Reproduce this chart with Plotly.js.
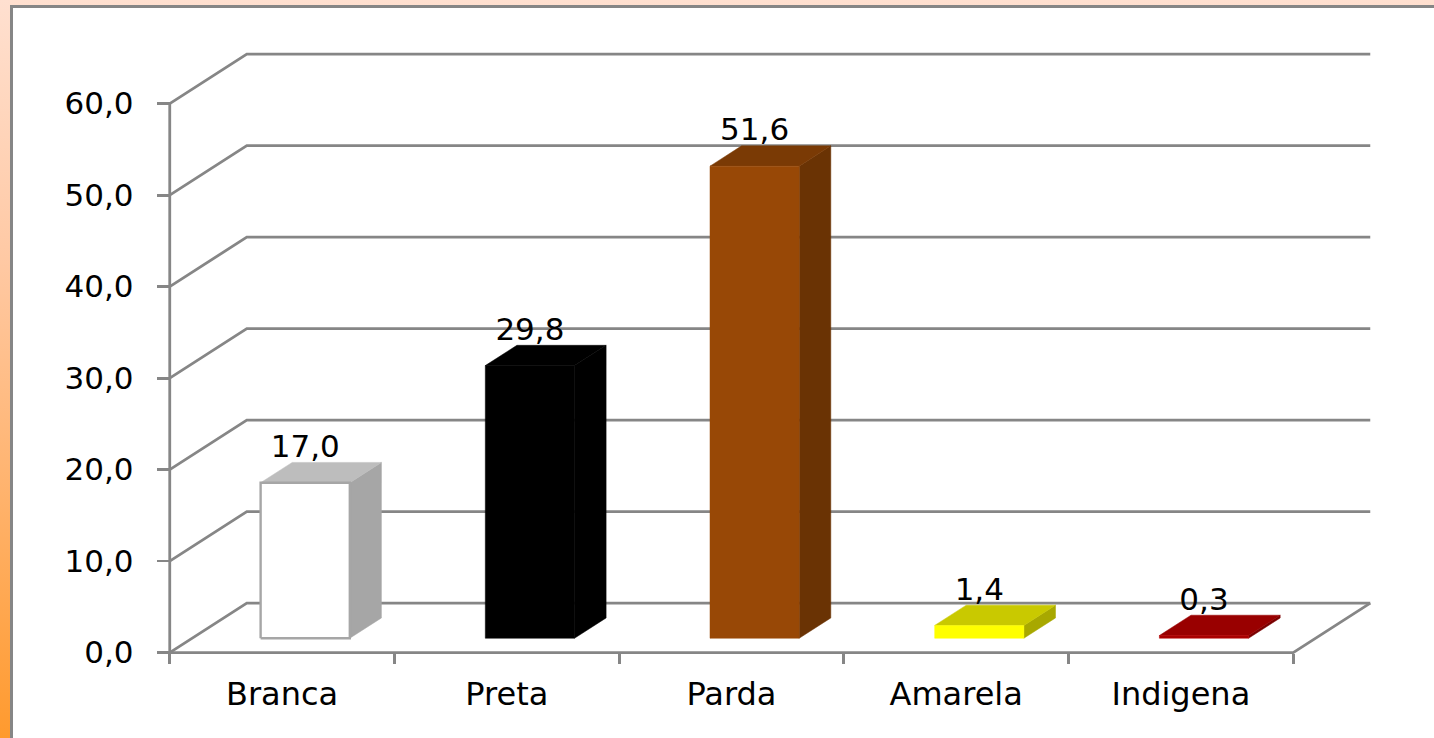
<!DOCTYPE html>
<html>
<head>
<meta charset="utf-8">
<script src="https://cdn.plot.ly/plotly-3.0.1.min.js"></script>
<style>
html,body{margin:0;padding:0;width:1434px;height:738px;overflow:hidden;background:linear-gradient(180deg,#ffe0d0 0%,#ffc9a4 35%,#ffb470 65%,#ff9a2e 100%);}
#panel{position:absolute;left:10px;top:5px;width:1440px;height:760px;background:#fff;border:3px solid #868686;box-sizing:border-box;}
#chart{position:absolute;left:0;top:0;width:1434px;height:738px;}
</style>
</head>
<body>
<div id="panel"></div>
<div id="chart"></div>
<script>
const categories = ['Branca', 'Preta', 'Parda', 'Amarela', 'Indigena'];
const values = [17.0, 29.8, 51.6, 1.4, 0.3];
const valueLabels = ['17,0', '29,8', '51,6', '1,4', '0,3'];
const yTicks = [0, 10, 20, 30, 40, 50, 60];
const yTickLabels = ['0,0', '10,0', '20,0', '30,0', '40,0', '50,0', '60,0'];

const frontColors = ['#ffffff', '#000000', '#984806', '#ffff00', '#a80000'];
const topColors = ['#bdbdbd', '#000000', '#7a3a05', '#c9c900', '#990000'];
const sideColors = ['#a6a6a6', '#000000', '#6a3304', '#a8a800', '#7a0000'];
const edgeColors = ['#a6a6a6', '#000000', '#984806', '#ffff00', '#b80000'];

// oblique projection of the 3D-look chart, in axis units
const DX = 0.343, DY = 5.41;          // full floor depth
const GAP = 0.305, BAR_W = 0.397;     // bar placement in a category
const D0 = 0.29, D1 = 0.70;           // bar depth span, fraction of the floor
const LABEL_UP = 3.65;
const GRID = '#868686';
const FONT = 'DejaVu Sans, Verdana, sans-serif';
const FS = 31, FS_X = 32;

const traces = [];
function poly(xs, ys, fill, line, w) {
  traces.push({type:'scatter', mode:'lines', x:xs, y:ys, fill:'toself', fillcolor:fill,
    line:{color:line, width:w}, hoverinfo:'skip', showlegend:false, cliponaxis:false});
}
function seg(xs, ys) {
  traces.push({type:'scatter', mode:'lines', x:xs, y:ys, line:{color:GRID, width:2.8},
    hoverinfo:'skip', showlegend:false, cliponaxis:false});
}
const n = categories.length;
yTicks.forEach(v => seg([0, DX, n + DX], [v, v + DY, v + DY]));
seg([0, 0], [0, yTicks[yTicks.length - 1]]);
seg([0, n, n + DX], [0, 0, DY]);

values.forEach((v, i) => {
  const xl = i + GAP + D0 * DX, xr = xl + BAR_W;
  const yb = D0 * DY, yt = yb + v;
  const ox = (D1 - D0) * DX, oy = (D1 - D0) * DY;
  poly([xr, xr + ox, xr + ox, xr, xr], [yb, yb + oy, yt + oy, yt, yb], sideColors[i], sideColors[i], 0.5);
  poly([xl, xl + ox, xr + ox, xr, xl], [yt, yt + oy, yt + oy, yt, yt], topColors[i], topColors[i], 0.5);
  poly([xl, xr, xr, xl, xl], [yb, yb, yt, yt, yb], frontColors[i], edgeColors[i], i === 0 ? 2.4 : 0.5);
});

traces.push({type:'scatter', mode:'text',
  x: values.map((v, i) => i + GAP + D0 * DX + BAR_W / 2),
  y: values.map(v => D0 * DY + v + LABEL_UP),
  text: valueLabels, textposition:'middle center',
  textfont:{family:FONT, size:FS, color:'#000'}, hoverinfo:'skip', showlegend:false, cliponaxis:false});

// the plot area is slightly larger than the chart frame so edge lines keep their full width
const PX_X = 224.6, PX_Y = 9.15;
const padX = 0.03, padY = 0.7;
const l = 170 - padX * PX_X, r = 64 - padX * PX_X;
const t = 53.5 - padY * PX_Y, b = 85.3 - padY * PX_Y;
const w = 1434 - l - r, h = 738 - t - b;

const layout = {
  width:1434, height:738, autosize:false, showlegend:false,
  margin:{l:l, r:r, t:t, b:b, pad:0},
  paper_bgcolor:'rgba(0,0,0,0)', plot_bgcolor:'rgba(0,0,0,0)',
  font:{family:FONT, size:FS, color:'#000'},
  xaxis:{range:[-padX, n + DX + padX], showgrid:false, zeroline:false, showline:false,
    anchor:'free', position:padY * PX_Y / h,
    tickmode:'array', tickvals:categories.map((c, i) => i + 0.5), ticktext:categories,
    ticks:'', ticklabelstandoff:19, tickfont:{family:FONT, size:FS_X, color:'#000'},
    minor:{tickmode:'array', tickvals:[0,1,2,3,4,5], ticks:'outside', ticklen:10, tickwidth:2.8, tickcolor:GRID, showgrid:false}},
  yaxis:{range:[-padY, 60 + DY + 0.08 + padY], showgrid:false, zeroline:false, showline:false,
    anchor:'free', position:padX * PX_X / w,
    tickmode:'array', tickvals:yTicks, ticktext:yTickLabels,
    ticks:'outside', ticklen:13, tickwidth:2.8, tickcolor:GRID, ticklabelstandoff:17,
    tickfont:{family:FONT, size:FS, color:'#000'}}
};
Plotly.newPlot('chart', traces, layout, {displayModeBar:false, staticPlot:true});
</script>
</body>
</html>
